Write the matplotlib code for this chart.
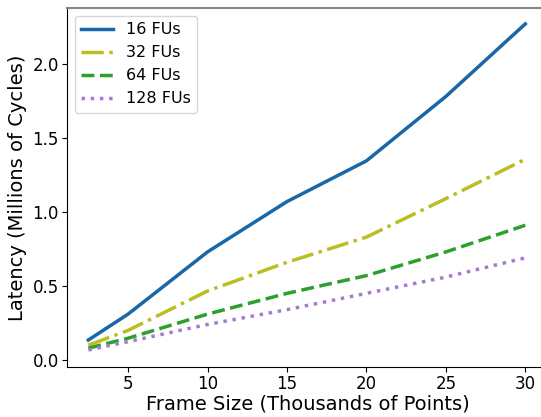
import matplotlib
matplotlib.use("Agg")
import matplotlib.pyplot as plt

frame_sizes = [2.5, 5, 10, 15, 20, 25, 30]
fu16 = [0.135, 0.31, 0.73, 1.07, 1.345, 1.78, 2.27]
fu32 = [0.10, 0.20, 0.466, 0.66, 0.83, 1.09, 1.356]
fu64 = [0.08, 0.147, 0.31, 0.45, 0.57, 0.73, 0.91]
fu128 = [0.068, 0.124, 0.24, 0.34, 0.45, 0.56, 0.69]

fig = plt.figure(figsize=(5.41, 4.17), dpi=100)
ax = fig.add_axes([0.124, 0.12, 0.891, 0.861])

ax.plot(frame_sizes, fu16, color='#1967a6', lw=2.5, ls='-', label='16 FUs')
ax.plot(frame_sizes, fu32, color='#bcbd22', lw=2.5, ls='-.', label='32 FUs')
ax.plot(frame_sizes, fu64, color='#2ca02c', lw=2.5, ls='--', label='64 FUs')
ax.plot(frame_sizes, fu128, color='#a57bd0', lw=2.5, ls=':', label='128 FUs')

ax.set_xlim(1.16, 31.5)
ax.set_ylim(-0.047, 2.378)
ax.set_xticks([5, 10, 15, 20, 25, 30])
ax.set_yticks([0.0, 0.5, 1.0, 1.5, 2.0])
ax.tick_params(labelsize=12, pad=2.5)
ax.set_xlabel('Frame Size (Thousands of Points)', fontsize=14, labelpad=1)
ax.set_ylabel('Latency (Millions of Cycles)', fontsize=14)
ax.spines['top'].set_color('#888888')
ax.spines['top'].set_linewidth(1.5)

ax.legend(loc='upper left', fontsize=11.5, handlelength=2.0, labelspacing=0.5)

fig.savefig('out.png', dpi=100)
